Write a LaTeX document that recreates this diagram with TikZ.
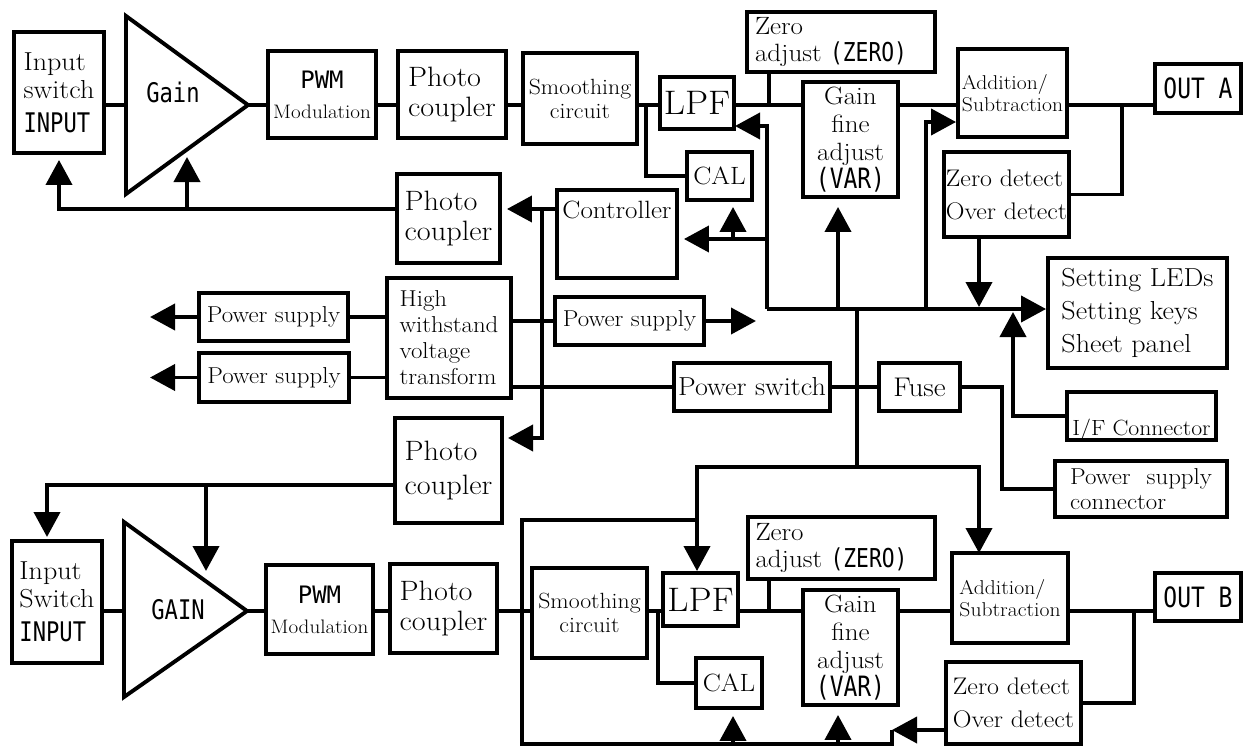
\documentclass[tikz,border=0pt]{standalone}
\usepackage{fontspec}
\setmainfont{Latin Modern Roman}[FakeStretch=1.08]
\newfontfamily\gothic[FakeStretch=0.82]{DejaVu Sans Mono}
\newfontfamily\gothicw{DejaVu Sans Mono}
\usetikzlibrary{arrows.meta,calc}
\tikzstyle{blk}  = [draw, line width=3.9pt, inner sep=1pt, align=center]
\tikzstyle{wire} = [line width=3.9pt]
\tikzstyle{flow} = [line width=3.9pt, -{Triangle[length=25pt,width=26pt]}]
\newcommand{\fsz}[2]{\fontsize{#1pt}{#2pt}\selectfont}

\begin{document}
\begin{tikzpicture}[x=1pt,y=-1pt]
\useasboundingbox (0,0) rectangle (1244,747);

% channel A
\node[blk, align=left, minimum width=90pt, minimum height=121pt, font=\fsz{26}{28}] (insw1) at (59,92.5) {Input\\switch\\[6pt]{\gothic\fsz{27}{30}INPUT}};
\draw[wire] (126,16) -- (248,105) -- (126,194) -- cycle;
\coordinate (amp1in) at (126,105);
\coordinate (amp1out) at (248,105);
\node[font=\gothic\fsz{27}{30}] (gain1) at (173,92) {Gain};
\node[blk, minimum width=108pt, minimum height=87pt, font=\fsz{19.5}{30}] (pwm1) at (322,94.5) {{\gothicw\fsz{24}{30}PWM}\\Modulation};
\node[blk, align=left, minimum width=108pt, minimum height=87pt, font=\fsz{28}{30}] (pc1) at (452,94.5) {Photo\\coupler};
\node[blk, minimum width=114pt, minimum height=91pt, font=\fsz{22}{24}] (sm1) at (580,98.5) {Smoothing\\circuit};
\node[blk, minimum width=74pt, minimum height=52pt, font=\fsz{34}{36}] (lpf1) at (697,103) {LPF};
\node[blk, minimum width=65pt, minimum height=48pt, font=\fsz{25}{28}] (cal1) at (719.5,176) {CAL};
\node[blk, align=left, text width=172pt, minimum width=188pt, minimum height=60pt, font=\fsz{25}{27}] (zadj1) at (841,42) {Zero\\adjust~{\gothic\fsz{26}{27}(ZERO)}};
\node[blk, minimum width=95pt, minimum height=115pt, font=\fsz{25}{28}] (gfa1) at (850.5,139.5) {Gain\\fine\\adjust\\{\gothic\fsz{28}{28}(VAR)}};
\node[blk, align=left, minimum width=109pt, minimum height=88pt, font=\fsz{20}{22}] (add1) at (1012.5,93) {Addition/\\Subtraction};
\node[blk, minimum width=86pt, minimum height=49pt, font=\gothic\fsz{28}{30}] (outa) at (1198,88.5) {OUT A};
\node[blk, align=left, minimum width=125pt, minimum height=85pt, font=\fsz{24}{33}] (zdet1) at (1006.5,194.5) {Zero detect\\Over detect};

% control and power
\node[blk, align=left, minimum width=103pt, minimum height=89pt, font=\fsz{28}{30}] (pc2) at (448.5,218.5) {Photo\\coupler};
\node[blk, minimum width=120pt, minimum height=88pt, label={[font=\fsz{25}{28}, anchor=north, yshift=-9pt]north:Controller}] (ctrl) at (617,234) {};
\node[blk, minimum width=149pt, minimum height=48pt, font=\fsz{23}{26}] (ps1) at (273.5,317) {Power supply};
\node[blk, minimum width=150pt, minimum height=49pt, font=\fsz{23}{26}] (ps2) at (274,377.5) {Power supply};
\node[blk, align=left, minimum width=124pt, minimum height=120pt, font=\fsz{23}{26}] (hv) at (449,338) {High\\withstand\\voltage\\transform};
\node[blk, minimum width=149pt, minimum height=48pt, font=\fsz{23}{26}] (ps3) at (629.5,321) {Power supply};
\node[blk, minimum width=156pt, minimum height=48pt, font=\fsz{26}{28}] (pwsw) at (752,387) {Power switch};
\node[blk, minimum width=81pt, minimum height=48pt, font=\fsz{27}{28}] (fuse) at (919.5,387) {Fuse};
\node[blk, align=left, minimum width=179pt, minimum height=110pt, font=\fsz{26}{33}] (set) at (1137.5,313) {Setting LEDs\\Setting keys\\Sheet panel};
\node[blk, minimum width=149pt, minimum height=48pt, label={[font=\fsz{22}{24}, anchor=base, yshift=6pt]south:I/F Connector}] (ifc) at (1141.5,416) {};
\node[blk, align=left, minimum width=172pt, minimum height=56pt, font=\fsz{23}{25}] (psc) at (1141,489) {Power\hspace{16pt}supply\\connector};
\node[blk, align=left, minimum width=107pt, minimum height=105pt, font=\fsz{28}{34}] (pc3) at (448.5,470.5) {Photo\\coupler};

% channel B
\node[blk, align=left, minimum width=90pt, minimum height=122pt, font=\fsz{26}{28}] (insw2) at (57,602) {Input\\Switch\\[6pt]{\gothic\fsz{27}{30}INPUT}};
\draw[wire] (124,522) -- (247,611) -- (124,697) -- cycle;
\coordinate (amp2in) at (124,611);
\coordinate (amp2out) at (247,611);
\node[font=\gothic\fsz{27}{30}] (gain2) at (178,610) {GAIN};
\node[blk, minimum width=107pt, minimum height=89pt, font=\fsz{19.5}{30}] (pwm2) at (319.5,609.5) {{\gothicw\fsz{24}{30}PWM}\\Modulation};
\node[blk, align=left, minimum width=107pt, minimum height=89pt, font=\fsz{28}{30}] (pc4) at (443.5,608.5) {Photo\\coupler};
\node[blk, minimum width=115pt, minimum height=90pt, font=\fsz{22}{24}] (sm2) at (589.5,613) {Smoothing\\circuit};
\node[blk, minimum width=75pt, minimum height=53pt, font=\fsz{34}{36}] (lpf2) at (700.5,599.5) {LPF};
\node[blk, minimum width=66pt, minimum height=50pt, font=\fsz{25}{28}] (cal2) at (729,683) {CAL};
\node[blk, align=left, text width=172pt, minimum width=187pt, minimum height=62pt, font=\fsz{25}{27}] (zadj2) at (841.5,548) {Zero\\adjust~{\gothic\fsz{26}{27}(ZERO)}};
\node[blk, minimum width=95pt, minimum height=115pt, font=\fsz{25}{28}] (gfa2) at (850.5,647.5) {Gain\\fine\\adjust\\{\gothic\fsz{28}{28}(VAR)}};
\node[blk, align=left, minimum width=116pt, minimum height=90pt, font=\fsz{20}{22}] (add2) at (1010,598) {Addition/\\Subtraction};
\node[blk, minimum width=86pt, minimum height=48pt, font=\gothic\fsz{28}{30}] (outb) at (1198,597) {OUT B};
\node[blk, align=left, minimum width=135pt, minimum height=82pt, font=\fsz{24}{33}] (zdet2) at (1013.5,703) {Zero detect\\Over detect};

% signal rows
\coordinate (rowA) at (0,105);
\coordinate (rowB) at (0,611);
\draw[wire] (insw1.east |- rowA) -- (amp1in);
\draw[wire] (amp1out) -- (pwm1.west |- rowA);
\draw[wire] (insw2.east |- rowB) -- (amp2in);
\draw[wire] (amp2out) -- (pwm2.west |- rowB);
\foreach \a/\b in {pwm1/pc1, pc1/sm1, sm1/lpf1, lpf1/gfa1, gfa1/add1, add1/outa}
  \draw[wire] (\a.east |- rowA) -- (\b.west |- rowA);
\foreach \a/\b in {pwm2/pc4, pc4/sm2, sm2/lpf2, lpf2/gfa2, gfa2/add2, add2/outb}
  \draw[wire] (\a.east |- rowB) -- (\b.west |- rowB);

% branches
\coordinate (calA) at (646,105);
\coordinate (zeroA) at (769,105);
\coordinate (outA) at (1122,105);
\draw[wire] (calA) |- (cal1.west);
\draw[wire] (zeroA) -- (zeroA |- zadj1.south);
\draw[wire] (outA) |- (zdet1.east);
\coordinate (calB) at (658,611);
\coordinate (zeroB) at (769,611);
\coordinate (outB) at (1134,611);
\draw[wire] (calB) |- (cal2.west);
\draw[wire] (zeroB) -- (zeroB |- zadj2.south);
\draw[wire] (outB) |- (zdet2.east);

% feedback to inputs
\coordinate (fbA) at (0,209);
\coordinate (ampA) at (187,157);
\draw[flow] (pc2.west |- fbA) -| ([yshift=-5pt]insw1.south);
\draw[flow] (ampA |- fbA) -- (ampA);
\coordinate (fbB) at (0,485);
\coordinate (inswB) at (47,537);
\coordinate (ampB) at (206,571);
\draw[flow] (pc3.west |- fbB) -| (inswB);
\draw[flow] (ampB |- fbB) -- (ampB);

% controller
\coordinate (ctlA) at (542,209);
\coordinate (pc3in) at (508,438);
\draw[flow] (ctrl.west |- ctlA) -- ([xshift=5pt]pc2.east |- ctlA);
\draw[flow] (ctlA) |- (pc3in);

% upper bus
\coordinate (busL) at (767,309);
\coordinate (lpfA) at (735,126);
\coordinate (ctlB) at (767,239);
\coordinate (calT) at (733,239);
\coordinate (varA) at (838,309);
\coordinate (addA) at (926,309);
\coordinate (detA) at (979,309);
\coordinate (ifA) at (1013,312);
\draw[flow] (busL) -- (set.west |- busL);
\draw[flow] (busL) |- (lpfA);
\draw[flow] (ctlB) -- ([xshift=5pt]ctrl.east |- ctlB);
\draw[flow] (calT) -- ([yshift=-5pt]calT |- cal1.south);
\draw[flow] (varA) -- ([yshift=-8pt]varA |- gfa1.south);
\draw[flow] (addA) |- (add1.west |- 0,122);
\draw[flow] (detA |- zdet1.south) -- ([yshift=2pt]detA);
\draw[flow] (ifc.west) -| (ifA);

% power
\coordinate (vA) at (150,317);
\coordinate (vC) at (756,321);
\coordinate (fuseA) at (1002,387);
\draw[flow] (ps1.west) -- (ps1.west -| vA);
\draw[flow] (ps2.west) -- (ps2.west -| vA);
\draw[wire] (ps1.east) -- (ps1.east -| hv.west);
\draw[wire] (ps2.east) -- (ps2.east -| hv.west);
\draw[wire] (hv.east |- ps3.west) -- (ps3.west);
\draw[flow] (ps3.east) -- (vC);
\draw[wire] (hv.east |- pwsw.west) -- (pwsw.west);
\draw[wire] (pwsw.east) -- (pwsw.east -| fuse.west);
\draw[wire] (fuse.east) -- (fuseA) |- (psc.west);

% lower bus
\coordinate (trk) at (857,467);
\coordinate (lpfB) at (697,467);
\coordinate (addB) at (979,553);
\coordinate (busB) at (697,520);
\coordinate (cornB) at (522,744);
\coordinate (detB) at (892,730);
\coordinate (calC) at (733,744);
\coordinate (varB) at (838,744);
\draw[wire] (busL -| trk) -- (trk);
\draw[flow] (trk) -- (lpfB) -- (lpfB |- lpf2.north);
\draw[flow] (trk) -| (addB);
\draw[wire] (busB) -| (cornB) -| (detB);
\draw[flow] (zdet2.west |- detB) -- (detB);
\draw[flow] (calC) -- ([yshift=-6pt]calC |- cal2.south);
\draw[flow] (varB) -- ([yshift=-8pt]varB |- gfa2.south);
\end{tikzpicture}
\end{document}
